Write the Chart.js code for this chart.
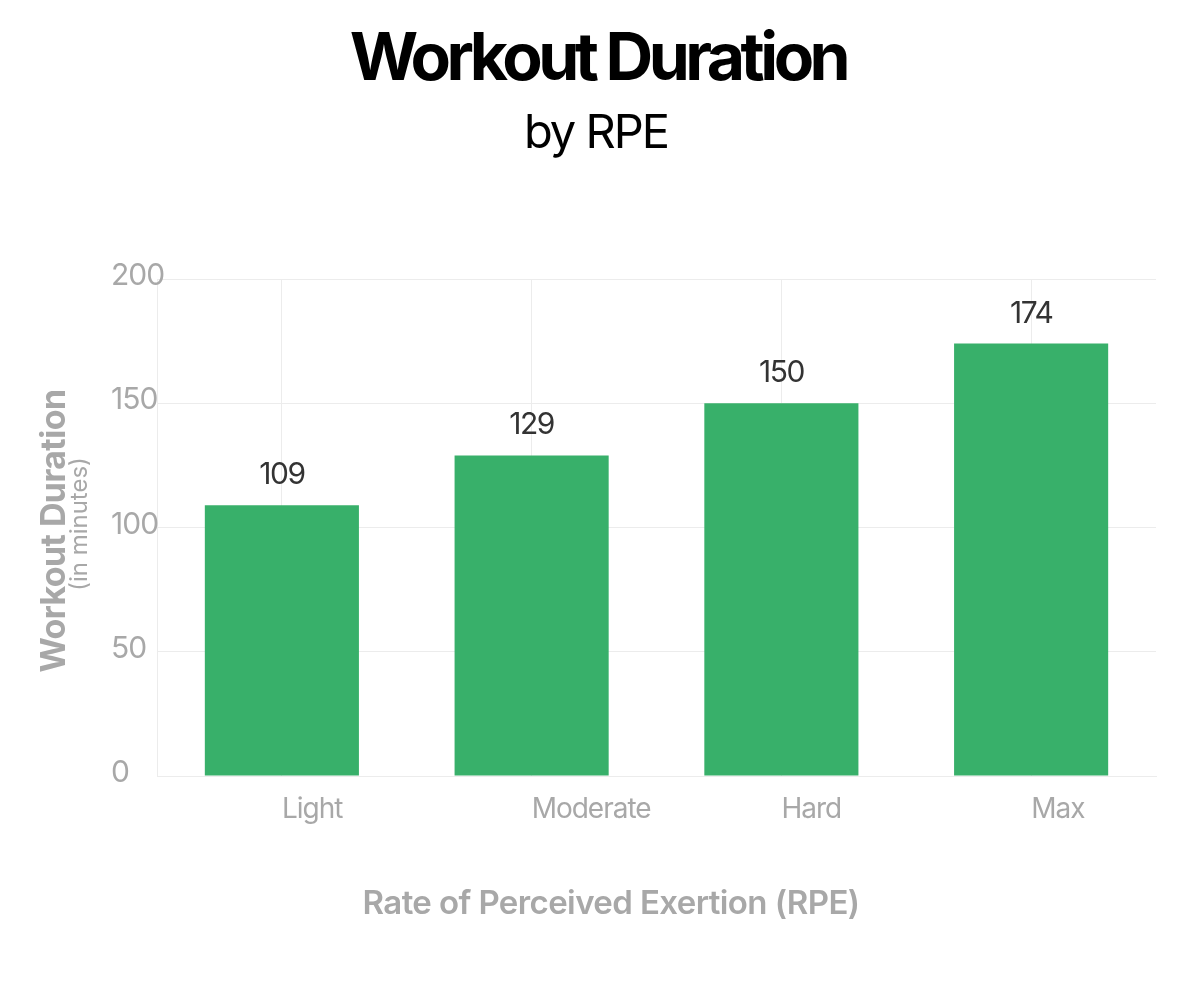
<!DOCTYPE html>
<html>
<head>
<meta charset="utf-8">
<script src="https://cdn.jsdelivr.net/npm/chart.js@4.4.1/dist/chart.umd.min.js"></script>
<style>
  html, body { margin: 0; padding: 0; background: #ffffff; }
  #wrap { width: 1200px; height: 1000px; }
  canvas { display: block; }
</style>
</head>
<body>
<div id="wrap"><canvas id="chart" width="1200" height="1000"></canvas></div>
<script>
// ---- Data ----
const categories = ['Light', 'Moderate', 'Hard', 'Max'];
const durations = [109, 129, 150, 174];
const yTickValues = [0, 50, 100, 150, 200];
const chartTitle = 'Workout Duration';
const chartSubtitle = 'by RPE';
const xAxisTitle = 'Rate of Perceived Exertion (RPE)';
const yAxisTitle = 'Workout Duration';
const yAxisSubtitle = '(in minutes)';

const FONT = 'Inter, "Noto Sans", sans-serif';
const GRID = '#ececec';
const MUTED = '#a8a8a8';

const spacingPlugin = {
  id: 'spacing',
  beforeDraw(chart) { chart.ctx.letterSpacing = '-1px'; }
};

const textPlugin = {
  id: 'customText',
  afterDatasetsDraw(chart) {
    const ctx = chart.ctx;
    const meta = chart.getDatasetMeta(0);
    ctx.save();
    ctx.letterSpacing = '-1.5px';
    ctx.font = '400 30px ' + FONT;
    ctx.fillStyle = '#333333';
    ctx.textAlign = 'center';
    ctx.textBaseline = 'alphabetic';
    meta.data.forEach((bar, i) => {
      ctx.fillText(String(durations[i]), bar.x, bar.y - 21);
    });
    ctx.restore();
  },
  afterDraw(chart) {
    const ctx = chart.ctx;
    ctx.save();
    ctx.textAlign = 'center';
    ctx.textBaseline = 'alphabetic';
    // Title
    ctx.fillStyle = '#000000';
    ctx.letterSpacing = '-4.5px';
    ctx.font = '700 66px ' + FONT;
    ctx.fillText(chartTitle, 598, 80);
    // Subtitle
    ctx.letterSpacing = '-2px';
    ctx.font = '400 47px ' + FONT;
    ctx.fillText(chartSubtitle, 596, 148);
    // X axis title
    ctx.fillStyle = MUTED;
    ctx.letterSpacing = '-0.6px';
    ctx.font = '600 33px ' + FONT;
    ctx.fillText(xAxisTitle, 611, 914);
    // Y axis title
    ctx.save();
    ctx.translate(65, 531);
    ctx.rotate(-Math.PI / 2);
    ctx.letterSpacing = '-0.6px';
    ctx.font = '700 34px ' + FONT;
    ctx.fillText(yAxisTitle, 0, 0);
    ctx.restore();
    ctx.save();
    ctx.translate(87, 524);
    ctx.rotate(-Math.PI / 2);
    ctx.letterSpacing = '0px';
    ctx.font = '400 24px ' + FONT;
    ctx.fillText(yAxisSubtitle, 0, 0);
    ctx.restore();
    ctx.restore();
  }
};

new Chart(document.getElementById('chart'), {
  type: 'bar',
  data: {
    labels: categories,
    datasets: [{
      data: durations,
      backgroundColor: '#38b06a',
      borderWidth: 0,
      categoryPercentage: 1.0,
      barPercentage: 0.617
    }]
  },
  options: {
    responsive: false,
    devicePixelRatio: 1,
    animation: false,
    layout: { padding: { left: 111, top: 279, right: 44, bottom: 0 } },
    plugins: {
      legend: { display: false },
      tooltip: { enabled: false },
      title: { display: false }
    },
    scales: {
      x: {
        offset: true,
        grid: { offset: false, color: GRID, lineWidth: 1, drawTicks: false },
        border: { display: true, color: GRID, width: 1 },
        ticks: {
          align: 'start',
          padding: 17,
          color: MUTED,
          font: { family: FONT, size: 28, weight: '400' }
        },
        afterFit(scale) { scale.height = 224; }
      },
      y: {
        min: 0,
        max: 200,
        afterBuildTicks(scale) { scale.ticks = yTickValues.map(v => ({ value: v })); },
        grid: { color: GRID, lineWidth: 1, drawTicks: false },
        border: { display: true, color: GRID, width: 1 },
        ticks: {
          mirror: true,
          crossAlign: 'near',
          padding: -46,
          labelOffset: -3,
          color: MUTED,
          font: { family: FONT, size: 30, weight: '400' }
        },
        afterFit(scale) { scale.width = 46; }
      }
    }
  },
  plugins: [spacingPlugin, textPlugin]
});
</script>
</body>
</html>
